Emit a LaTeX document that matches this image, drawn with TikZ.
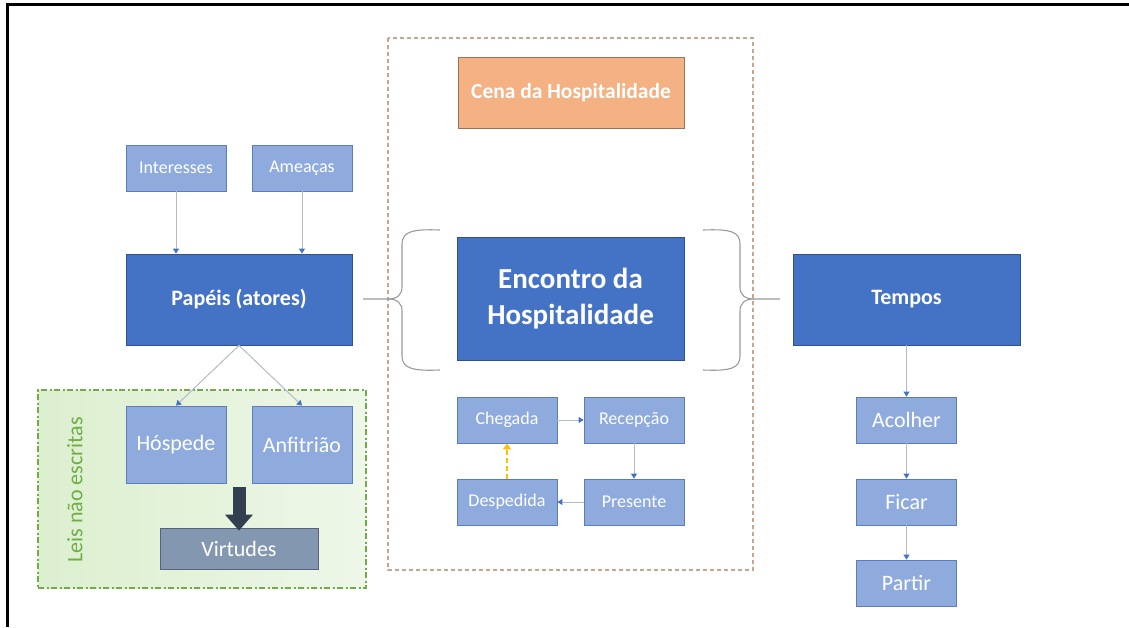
\documentclass[tikz,border=0pt]{standalone}
\usepackage{fontspec}
\setmainfont{Carlito}
\usetikzlibrary{arrows.meta}
\definecolor{dblue}{HTML}{4472C4}
\definecolor{dblueb}{HTML}{2F528F}
\definecolor{lblue}{HTML}{8FAADC}
\definecolor{lblueb}{HTML}{5B7DBF}
\definecolor{orng}{HTML}{F4B183}
\definecolor{orngb}{HTML}{9C7358}
\definecolor{virt}{HTML}{8497B0}
\definecolor{virtb}{HTML}{55647C}
\definecolor{scene}{HTML}{C9A491}
\definecolor{grn}{HTML}{70AD47}
\definecolor{grnL}{HTML}{DCEFCF}
\definecolor{grnR}{HTML}{EEF7E8}
\definecolor{connc}{HTML}{B4BAC6}
\definecolor{blk}{HTML}{333F50}
\definecolor{ylw}{HTML}{FFC000}
\definecolor{brc}{HTML}{9A9A9A}
\tikzset{
  box/.style={draw, line width=0.8pt, inner sep=2pt, align=center, text=white},
  dbox/.style={box, fill=dblue, draw=dblueb, font=\fontsize{22}{26}\selectfont\bfseries},
  lbox/.style={box, fill=lblue, draw=lblueb},
  smalltxt/.style={font=\fontsize{18}{21}\selectfont},
  bigtxt/.style={font=\fontsize{22}{26}\selectfont},
  conn/.style={draw=connc, line width=1pt, -{Triangle[width=6pt,length=5pt,color=dblue]}},
  brace/.style={draw=brc, line width=1.1pt},
}
\begin{document}
\begin{tikzpicture}[x=1pt,y=-1pt]
\useasboundingbox (0,0) rectangle (1129,627);
% frame
\draw[line width=3pt] (6,4.5) -- (1129,4.5);
\draw[line width=3pt] (7.5,3) -- (7.5,627);
% scene dashed box
\draw[scene, line width=1.4pt, dash pattern=on 4pt off 3pt] (388,38) rectangle (753,570);
% green box
\node[draw=grn, line width=1.2pt, dash pattern=on 6pt off 2.5pt on 2pt off 2.5pt,
      left color=grnL, right color=grnR, minimum width=328pt, minimum height=198pt, inner sep=0pt]
      (leis) at (202,489) {};
\node[rotate=90, text=grn, font=\fontsize{22}{26}\selectfont] (leistxt) at (75,490) {Leis não escritas};
% nodes
\node[box, fill=orng, draw=orngb, minimum width=226pt, minimum height=71pt,
      font=\fontsize{21.5}{25}\selectfont\bfseries] (cena) at (571,92.5) {Cena da Hospitalidade};
\node[lbox, smalltxt, minimum width=100pt, minimum height=46pt] (inter) at (176,168) {Interesses};
\node[lbox, smalltxt, minimum width=100pt, minimum height=46pt] (amea) at (302,168) {Ameaças};
\node[dbox, minimum width=226pt, minimum height=91pt] (papeis) at (239,299.5) {Papéis (atores)};
\node[lbox, bigtxt, minimum width=100pt, minimum height=77pt] (hosp) at (176,444.5) {Hóspede};
\node[lbox, bigtxt, minimum width=100pt, minimum height=77pt] (anfi) at (302,444.5) {Anfitrião};
\node[box, fill=virt, draw=virtb, bigtxt, minimum width=158pt, minimum height=41pt] (virtu) at (239,548.5) {Virtudes};
\node[dbox, font=\fontsize{29}{36}\selectfont\bfseries, minimum width=227pt, minimum height=123pt] (enc) at (570.5,298.5) {Encontro da\\Hospitalidade};
\node[dbox, minimum width=227pt, minimum height=91pt] (tempos) at (906.5,299.5) {Tempos};
\node[lbox, bigtxt, minimum width=100pt, minimum height=46pt] (acol) at (906.5,420) {Acolher};
\node[lbox, bigtxt, minimum width=100pt, minimum height=46pt] (ficar) at (906.5,502) {Ficar};
\node[lbox, bigtxt, minimum width=100pt, minimum height=46pt] (partir) at (906.5,583) {Partir};
\node[lbox, smalltxt, minimum width=100pt, minimum height=46pt] (cheg) at (507,420) {Chegada};
\node[lbox, smalltxt, minimum width=100pt, minimum height=46pt] (recep) at (634,420) {Recepção};
\node[lbox, smalltxt, minimum width=100pt, minimum height=46pt] (desp) at (507,502) {Despedida};
\node[lbox, smalltxt, minimum width=100pt, minimum height=46pt] (pres) at (634,502) {Presente};
% connectors
\draw[conn] (inter.south) -- (inter.south |- papeis.north);
\draw[conn] (amea.south) -- (amea.south |- papeis.north);
\draw[conn] (papeis.south) -- (hosp.north);
\draw[conn] (papeis.south) -- (anfi.north);
\draw[conn] (tempos.south) -- (acol.north);
\draw[conn] (acol.south) -- (ficar.north);
\draw[conn] (ficar.south) -- (partir.north);
\draw[conn] (cheg.east) -- (recep.west);
\draw[conn] (recep.south) -- (pres.north);
\draw[conn] (pres.west) -- (desp.east);
\draw[ylw, line width=2.5pt, dash pattern=on 5pt off 3pt, -{Triangle[width=8pt,length=6pt]}] (desp.north) -- (cheg.south);
% block arrow
\coordinate (bstart) at (239,487);
\draw[blk, line width=13pt, -{Triangle[width=27pt,length=16pt]}] (bstart) -- ([yshift=-3pt]virtu.north);
% left brace
\coordinate (ltip) at (363,299);
\draw[brace] (440,230) .. controls (414,229) and (402,231) .. (402,244) -- (402,287)
  .. controls (402,295) and (397,299) .. (388,299) -- (ltip);
\draw[brace] (388,299) .. controls (397,299) and (402,303) .. (402,311) -- (402,356)
  .. controls (402,369) and (414,371) .. (440,370);
% right brace
\coordinate (rtip) at (780,299);
\draw[brace] (703,230) .. controls (729,229) and (740,231) .. (740,244) -- (740,287)
  .. controls (740,295) and (745,299) .. (754,299) -- (rtip);
\draw[brace] (754,299) .. controls (745,299) and (740,303) .. (740,311) -- (740,356)
  .. controls (740,369) and (729,371) .. (703,370);
\end{tikzpicture}
\end{document}
